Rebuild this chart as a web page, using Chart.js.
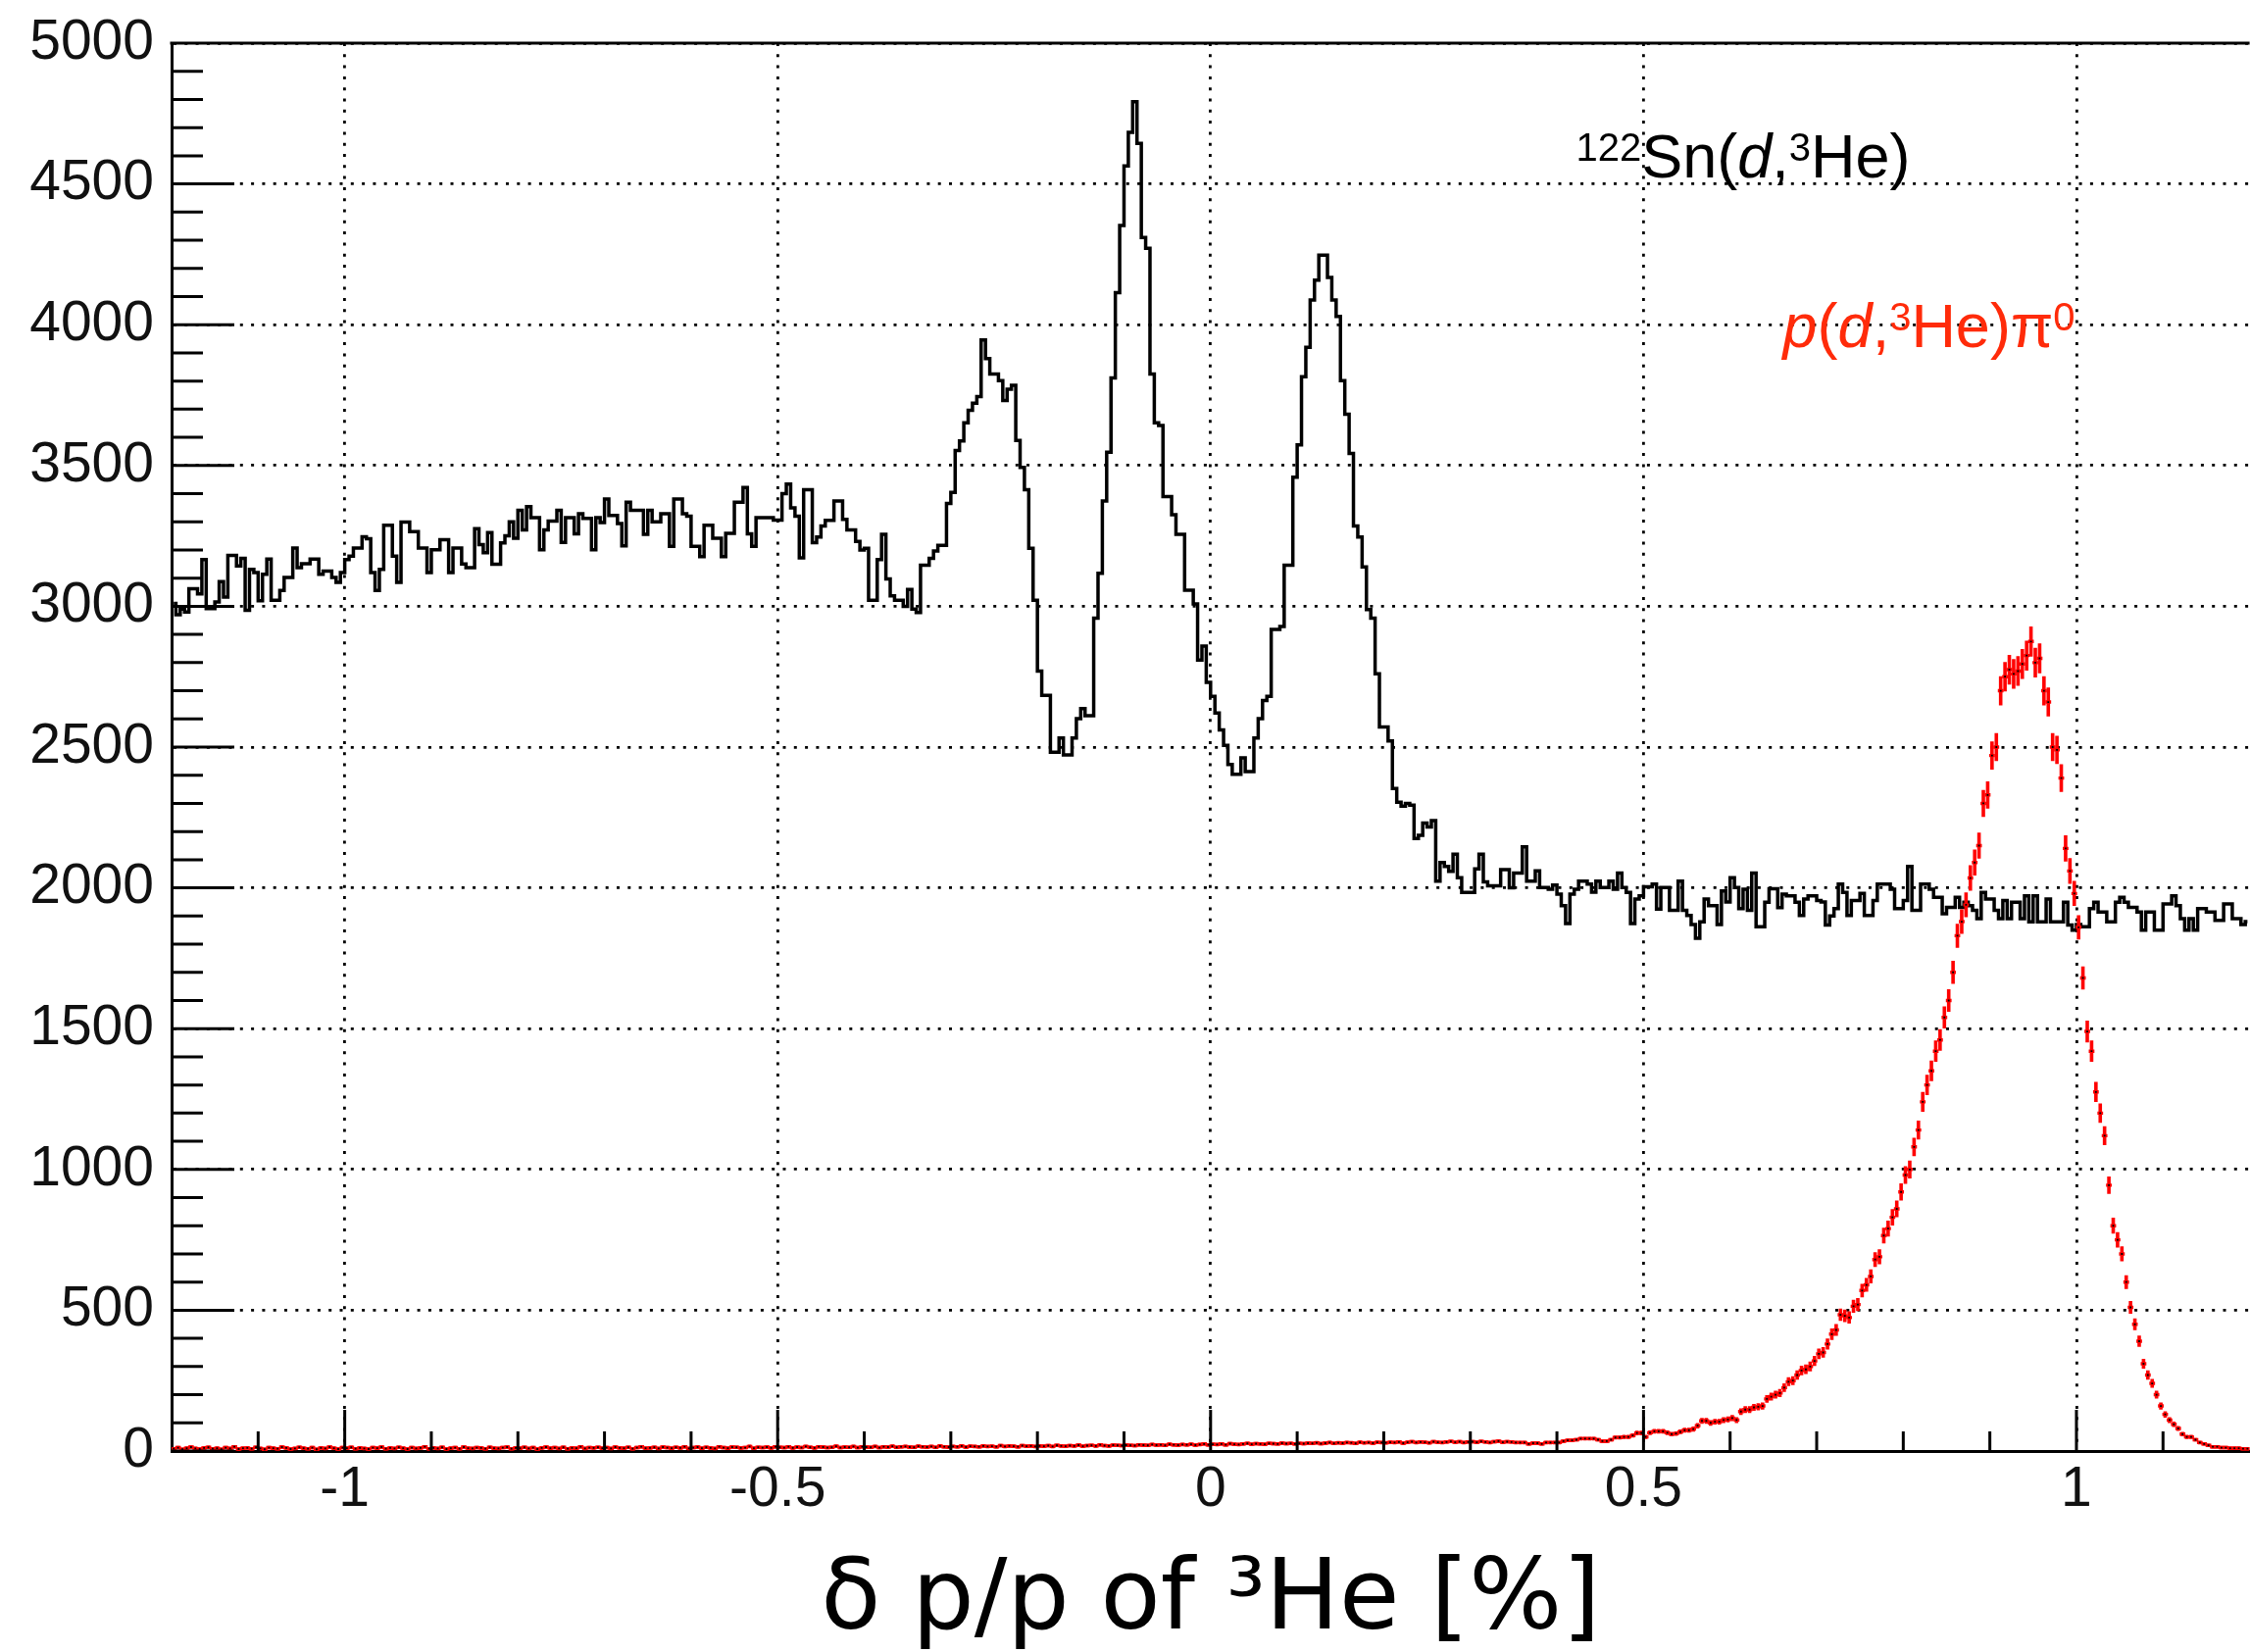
<!DOCTYPE html>
<html>
<head>
<meta charset="utf-8">
<script src="https://cdn.jsdelivr.net/npm/chart.js@4.4.1/dist/chart.umd.min.js"></script>
<style>
  html, body { margin: 0; padding: 0; background: #fff; overflow: hidden; }
  #wrap { position: relative; width: 2302px; height: 1685px; }
</style>
</head>
<body>
<div id="wrap"><canvas id="grafik"></canvas></div>
<script>
// histogram bins: 480 bins of 0.005 % from -1.2 to 1.2
const binStart = -1.2;
const binWidth = 0.005;

// 122Sn(d,3He) counts per bin (black step histogram)
const snCounts = [
  3010, 2970, 2990, 2980, 3062, 3062, 3044, 3166, 2992, 2992, 3015, 3088, 3033, 3181, 3181, 3143, 3170, 2986, 3131, 3120,
  3020, 3114, 3168, 3021, 3021, 3056, 3102, 3102, 3207, 3137, 3151, 3151, 3168, 3168, 3114, 3125, 3125, 3102, 3085, 3120,
  3166, 3178, 3207, 3207, 3247, 3240, 3120, 3056, 3131, 3288, 3288, 3178, 3085, 3299, 3299, 3265, 3265, 3207, 3207, 3120,
  3201, 3201, 3236, 3236, 3120, 3207, 3207, 3150, 3137, 3137, 3276, 3219, 3190, 3262, 3149, 3149, 3225, 3250, 3300, 3242,
  3341, 3271, 3354, 3315, 3315, 3201, 3271, 3303, 3303, 3341, 3227, 3315, 3315, 3257, 3329, 3312, 3312, 3201, 3315, 3297,
  3381, 3323, 3323, 3294, 3215, 3370, 3341, 3341, 3341, 3256, 3341, 3300, 3300, 3329, 3329, 3213, 3381, 3381, 3329, 3320,
  3213, 3213, 3176, 3288, 3288, 3242, 3242, 3176, 3259, 3259, 3370, 3370, 3422, 3257, 3213, 3315, 3315, 3315, 3315, 3306,
  3306, 3400, 3434, 3350, 3320, 3172, 3414, 3414, 3226, 3246, 3285, 3305, 3305, 3374, 3374, 3309, 3271, 3271, 3230, 3200,
  3206, 3021, 3021, 3166, 3256, 3097, 3037, 3021, 3021, 3000, 3060, 2990, 2978, 3146, 3146, 3170, 3196, 3216, 3216, 3365,
  3404, 3553, 3587, 3652, 3696, 3721, 3745, 3946, 3880, 3825, 3825, 3801, 3731, 3771, 3785, 3589, 3493, 3414, 3206, 3021,
  2770, 2684, 2684, 2482, 2482, 2532, 2472, 2472, 2532, 2601, 2637, 2611, 2611, 2958, 3117, 3374, 3547, 3811, 4114, 4352,
  4564, 4683, 4792, 4644, 4310, 4271, 3825, 3652, 3642, 3390, 3390, 3325, 3256, 3256, 3057, 3057, 3008, 2809, 2859, 2730,
  2680, 2621, 2561, 2506, 2438, 2403, 2403, 2462, 2413, 2413, 2532, 2601, 2665, 2680, 2918, 2918, 2928, 3146, 3146, 3458,
  3573, 3815, 3920, 4088, 4158, 4247, 4247, 4168, 4088, 4029, 3801, 3682, 3543, 3285, 3246, 3140, 2988, 2958, 2760, 2571,
  2571, 2522, 2353, 2304, 2290, 2300, 2294, 2175, 2187, 2230, 2216, 2239, 2024, 2090, 2076, 2059, 2120, 2036, 1984, 1984,
  1984, 2067, 2120, 2021, 2007, 2007, 2007, 2065, 2065, 2000, 2053, 2053, 2146, 2024, 2024, 2060, 2001, 2001, 1995, 2010,
  1978, 1937, 1873, 1978, 1995, 2024, 2024, 2013, 1985, 2024, 2001, 2001, 2024, 1995, 2053, 2001, 1984, 1873, 1960, 1972,
  2004, 2004, 2013, 1925, 2001, 2001, 1920, 1920, 2024, 1920, 1902, 1870, 1821, 1879, 1960, 1937, 1937, 1870, 1989, 1950,
  2036, 2001, 1926, 1995, 1920, 2053, 1862, 1862, 1949, 1997, 1997, 1930, 1978, 1972, 1972, 1949, 1902, 1960, 1972, 1972,
  1955, 1950, 1868, 1900, 1926, 2013, 1984, 1902, 1955, 1955, 1980, 1902, 1902, 1955, 2013, 2013, 2013, 1995, 1926, 1926,
  1955, 2076, 1920, 1920, 2013, 2013, 1995, 1966, 1966, 1908, 1931, 1931, 1966, 1931, 1949, 1937, 1920, 1891, 1984, 1960,
  1960, 1920, 1891, 1955, 1891, 1949, 1949, 1891, 1972, 1879, 1972, 1879, 1879, 1960, 1879, 1879, 1879, 1949, 1868, 1850,
  1870, 1862, 1862, 1926, 1949, 1914, 1914, 1879, 1879, 1949, 1966, 1949, 1931, 1931, 1914, 1850, 1914, 1914, 1850, 1850,
  1943, 1943, 1972, 1937, 1891, 1850, 1891, 1850, 1926, 1926, 1914, 1914, 1885, 1885, 1943, 1943, 1891, 1891, 1870, 1880
];

// p(d,3He)pi0 counts per bin (red points with error bars)
const pCounts = [
  8, 12, 6, 10, 14, 9, 7, 11, 13, 8, 10, 6, 12, 9, 15, 7, 10, 11, 8, 13,
  9, 6, 12, 10, 8, 14, 11, 7, 9, 13, 10, 8, 12, 6, 11, 9, 14, 10, 7, 12,
  10, 13, 8, 11, 9, 7, 12, 10, 14, 8, 11, 9, 13, 10, 7, 12, 9, 11, 15, 8,
  11, 9, 13, 7, 10, 12, 8, 14, 10, 9, 12, 11, 8, 13, 10, 9, 12, 14, 8, 11,
  10, 13, 9, 12, 7, 11, 14, 10, 12, 9, 13, 8, 11, 10, 15, 9, 12, 11, 13, 10,
  12, 9, 14, 11, 10, 13, 8, 12, 15, 10, 11, 13, 9, 14, 12, 10, 13, 11, 15, 9,
  12, 14, 10, 13, 11, 9, 15, 12, 10, 14, 13, 11, 12, 16, 10, 13, 12, 14, 11, 15,
  13, 12, 15, 11, 14, 12, 16, 13, 11, 15, 14, 12, 13, 17, 12, 14, 13, 16, 12, 15,
  14, 13, 16, 12, 15, 14, 17, 13, 15, 16, 14, 13, 17, 15, 14, 16, 13, 18, 15, 14,
  16, 15, 18, 14, 17, 16, 15, 18, 16, 17, 15, 19, 16, 18, 17, 15, 19, 17, 18, 16,
  18, 17, 19, 16, 20, 18, 17, 19, 18, 21, 17, 19, 20, 18, 22, 19, 18, 21, 20, 19,
  21, 20, 19, 22, 21, 20, 23, 21, 22, 20, 24, 22, 21, 23, 22, 24, 21, 23, 25, 22,
  24, 23, 25, 22, 26, 24, 23, 25, 27, 24, 26, 25, 24, 27, 26, 25, 28, 26, 27, 25,
  27, 26, 28, 27, 29, 26, 28, 30, 27, 29, 28, 30, 29, 27, 31, 29, 30, 28, 31, 30,
  29, 31, 30, 32, 28, 31, 33, 30, 32, 31, 29, 33, 31, 30, 32, 34, 31, 33, 30, 32,
  33, 31, 34, 32, 30, 33, 35, 31, 33, 32, 30, 30, 30, 25, 28, 28, 25, 30, 30, 30,
  30, 35, 38, 38, 40, 44, 44, 44, 44, 40, 35, 35, 40, 48, 48, 50, 50, 55, 64, 64,
  50, 65, 70, 70, 70, 65, 60, 62, 68, 74, 74, 78, 90, 107, 107, 100, 104, 104, 110, 112,
  117, 110, 140, 147, 147, 155, 157, 160, 185, 193, 200, 206, 225, 246, 250, 270, 286, 290, 300, 320,
  345, 350, 380, 415, 430, 484, 480, 474, 514, 520, 570, 590, 620, 680, 690, 765, 790, 830, 860, 920,
  980, 1000, 1080, 1140, 1240, 1300, 1350, 1420, 1460, 1540, 1600, 1700, 1830, 1880, 1940, 2035, 2090, 2150, 2300, 2330,
  2470, 2500, 2700, 2750, 2775, 2760, 2770, 2795, 2825, 2875, 2800, 2815, 2700, 2660, 2500, 2490, 2390, 2140, 2060, 1980,
  1860, 1680, 1490, 1420, 1275, 1200, 1120, 944, 800, 750, 700, 600, 510, 450, 390, 310, 270, 240, 200, 160,
  130, 110, 95, 80, 60, 50, 50, 40, 30, 25, 20, 15, 15, 12, 12, 10, 10, 10, 8, 8
];

const xTicks = [-1, -0.5, 0, 0.5, 1];
const xMinorTicks = [-1.1, -0.9, -0.8, -0.7, -0.6, -0.4, -0.3, -0.2, -0.1, 0.1, 0.2, 0.3, 0.4, 0.6, 0.7, 0.8, 0.9, 1.1];
const yTicks = [0, 500, 1000, 1500, 2000, 2500, 3000, 3500, 4000, 4500, 5000];

const snLabel = [
  { t: "122", sup: true }, { t: "Sn(" }, { t: "d", it: true }, { t: "," },
  { t: "3", sup: true }, { t: "He)" }
];
const pLabel = [
  { t: "p", it: true }, { t: "(" }, { t: "d", it: true }, { t: "," },
  { t: "3", sup: true }, { t: "He)π" }, { t: "0", sup: true }
];

const centers = snCounts.map((_, i) => binStart + binWidth * (i + 0.5));
const snPoints = snCounts.map((v, i) => ({ x: centers[i], y: v }));
const pPoints = pCounts.map((v, i) => ({ x: centers[i], y: v }));

function errRadius(ctx) {
  const ys = ctx.chart.scales.y;
  const v = ctx.raw ? ctx.raw.y : 0;
  if (!ys || !v) return 1.5;
  const e = Math.sqrt(v);
  return Math.max(1.8, (ys.getPixelForValue(v - e) - ys.getPixelForValue(v + e)) / 2);
}

function drawLabel(ctx, parts, x, y, color) {
  let cx = x;
  ctx.fillStyle = color;
  ctx.textBaseline = "alphabetic";
  ctx.textAlign = "left";
  parts.forEach(p => {
    const size = p.sup ? 40 : 63;
    ctx.font = (p.it ? "italic " : "") + size + "px 'Liberation Sans', Arial, sans-serif";
    ctx.fillText(p.t, cx, p.sup ? y - 17 : y);
    cx += ctx.measureText(p.t).width;
  });
}

const rootFrame = {
  id: "rootFrame",
  afterDraw(chart) {
    const { ctx, chartArea: a, scales: { x, y } } = chart;
    ctx.save();
    ctx.strokeStyle = "#000";
    ctx.lineWidth = 3;
    ctx.beginPath();
    ctx.moveTo(a.left - 1.5, a.top);
    ctx.lineTo(a.right, a.top);
    for (let v = 0; v <= 5000; v += 100) {
      const p = y.getPixelForValue(v);
      const len = yTicks.includes(v) ? 64 : 32;
      ctx.moveTo(a.left, p);
      ctx.lineTo(a.left + len, p);
    }
    xTicks.forEach(v => {
      const p = x.getPixelForValue(v);
      ctx.moveTo(p, a.bottom);
      ctx.lineTo(p, a.bottom - 42);
    });
    xMinorTicks.forEach(v => {
      const p = x.getPixelForValue(v);
      ctx.moveTo(p, a.bottom);
      ctx.lineTo(p, a.bottom - 20);
    });
    ctx.stroke();

    drawLabel(ctx, snLabel, x.getPixelForValue(0.422), y.getPixelForValue(4523), "#000");
    drawLabel(ctx, pLabel, x.getPixelForValue(0.661), y.getPixelForValue(3921), "#ff2b0a");
    ctx.restore();
  }
};

const tickFont = { family: "'Liberation Sans', Arial, sans-serif", size: 57 };

new Chart(document.getElementById("grafik"), {
  type: "line",
  data: {
    datasets: [
      {
        label: "p(d,3He)pi0 centre",
        data: pPoints,
        showLine: false,
        pointStyle: "rect",
        pointRadius: 1.3,
        pointBackgroundColor: "#000",
        pointBorderWidth: 0,
        order: 0
      },
      {
        label: "p(d,3He)pi0 bin",
        data: pPoints,
        showLine: false,
        pointStyle: "line",
        pointRadius: 2.9,
        pointBorderColor: "#ff0000",
        pointBorderWidth: 3.4,
        order: 1
      },
      {
        label: "p(d,3He)pi0 error",
        data: pPoints,
        showLine: false,
        pointStyle: "line",
        pointRotation: 90,
        pointRadius: errRadius,
        pointBorderColor: "#ff0000",
        pointBorderWidth: 3.6,
        order: 2
      },
      {
        label: "122Sn(d,3He)",
        data: snPoints,
        stepped: "middle",
        borderColor: "#000",
        borderWidth: 3.5,
        pointRadius: 0,
        fill: false,
        order: 3
      }
    ]
  },
  options: {
    responsive: true,
    maintainAspectRatio: false,
    animation: false,
    events: [],
    layout: { padding: { top: 44, right: 0, left: 0, bottom: 0 } },
    plugins: { legend: { display: false }, tooltip: { enabled: false } },
    scales: {
      x: {
        type: "linear",
        min: -1.2,
        max: 1.2,
        afterBuildTicks: s => { s.ticks = xTicks.map(v => ({ value: v })); },
        afterFit: s => { s.height = 205; s.paddingLeft = 0; s.paddingRight = 0; },
        ticks: { font: tickFont, color: "#111", padding: 6, maxRotation: 0, callback: v => String(v) },
        grid: { color: "#000", lineWidth: 2.8, drawTicks: false },
        border: { display: true, color: "#000", width: 3, dash: [3, 8.3] },
        title: {
          display: true,
          text: "δ p/p of ³He [%]",
          color: "#000",
          font: { family: "'DejaVu Sans', sans-serif", size: 100, weight: 400, lineHeight: 1 },
          padding: { top: 0, bottom: 0 }
        }
      },
      y: {
        type: "linear",
        min: 0,
        max: 5000,
        afterBuildTicks: s => { s.ticks = yTicks.map(v => ({ value: v })); },
        afterFit: s => { s.width = 175; s.paddingTop = 0; s.paddingBottom = 0; },
        ticks: { font: tickFont, color: "#111", padding: 18, callback: v => String(v) },
        grid: { color: "#000", lineWidth: 2.8, drawTicks: false },
        border: { display: true, color: "#000", width: 3, dash: [3, 8.3] }
      }
    }
  },
  plugins: [rootFrame]
});
</script>
</body>
</html>
